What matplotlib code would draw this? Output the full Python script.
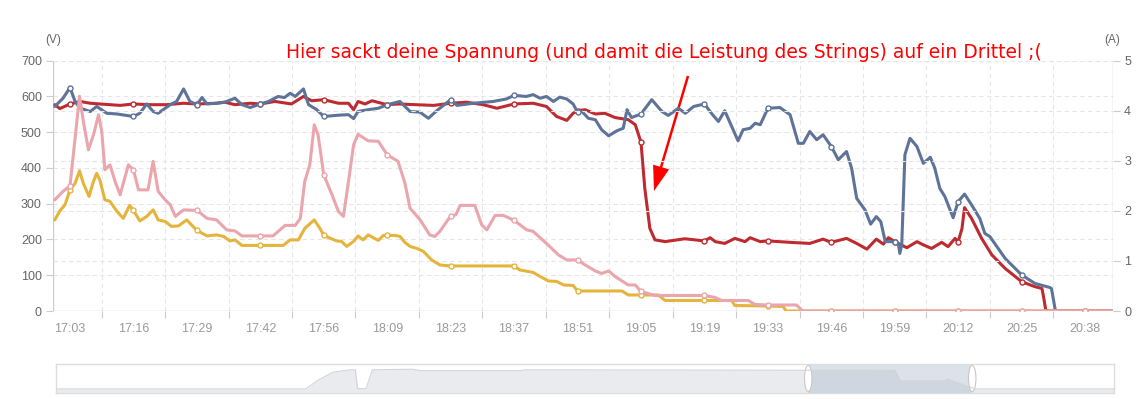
import numpy as np
import matplotlib.pyplot as plt
from matplotlib.patches import Ellipse, Rectangle

# category labels on the time axis (one label every few samples)
times = ["17:03", "17:16", "17:29", "17:42", "17:56", "18:09", "18:23", "18:37", "18:51",
         "19:05", "19:19", "19:33", "19:46", "19:59", "20:12", "20:25", "20:38"]

# string 1 voltage (V), x in label-index units
red_x = [-0.24, -0.16, 0, 0.16, 0.32, 0.47, 0.63, 0.79, 1, 1.26, 1.52, 1.79, 2, 2.31, 2.44, 2.6,
         2.84, 3, 3.23, 3.49, 3.68, 3.81, 4, 4.23, 4.39, 4.47, 4.54, 4.65, 4.76, 4.91, 5, 5.18,
         5.45, 5.73, 6, 6.25, 6.51, 6.73, 7, 7.3, 7.51, 7.67, 7.83, 7.93, 8, 8.12, 8.28, 8.43,
         8.59, 8.8, 8.91, 9, 9.06, 9.14, 9.22, 9.38, 9.69, 10, 10.09, 10.17, 10.32, 10.48, 10.64,
         10.72, 10.88, 11, 11.35, 11.66, 11.87, 12, 12.24, 12.4, 12.56, 12.71, 12.82, 12.9, 13,
         13.19, 13.35, 13.45, 13.58, 13.74, 13.84, 13.95, 14, 14.06, 14.1, 14.21, 14.37, 14.53,
         14.74, 15, 15.21, 15.32, 15.34, 15.38, 15.42, 16, 16.42]
red_v = [577, 566, 579, 586, 581, 579, 577, 575, 579, 577, 577, 581, 579, 581, 584, 577,
         581, 579, 586, 579, 600, 588, 591, 581, 581, 563, 586, 579, 588, 581, 577, 579,
         577, 575, 581, 584, 577, 567, 579, 581, 572, 544, 533, 553, 560, 563, 551, 553,
         541, 535, 521, 472, 343, 231, 199, 194, 202, 196, 205, 194, 189, 203, 194,
         205, 194, 196, 192, 189, 201, 192, 203, 189, 173, 201, 187, 205, 194,
         177, 194, 185, 175, 192, 180, 203, 194, 231, 289, 259, 203, 157,
         119, 82, 68, 63, 45, 3, 0, 0, 0]

# string 2 voltage (V)
blue_x = [-0.24, -0.11, 0, 0.08, 0.16, 0.32, 0.42, 0.58, 0.74, 1, 1.1, 1.21, 1.31, 1.39, 1.5,
          1.58, 1.68, 1.79, 1.89, 2, 2.08, 2.16, 2.31, 2.44, 2.6, 2.71, 2.84, 3, 3.13, 3.28,
          3.38, 3.47, 3.55, 3.68, 3.76, 3.89, 4, 4.26, 4.39, 4.47, 4.54, 4.7, 4.86, 5, 5.2,
          5.36, 5.52, 5.57, 5.65, 5.78, 6, 6.1, 6.36, 6.67, 6.88, 7, 7.19, 7.3, 7.41, 7.51,
          7.62, 7.72, 7.83, 7.93, 8, 8.07, 8.17, 8.28, 8.38, 8.49, 8.62, 8.72, 8.78, 8.85, 9,
          9.17, 9.33, 9.43, 9.59, 9.7, 9.83, 10, 10.11, 10.22, 10.32, 10.43, 10.53, 10.61,
          10.72, 10.8, 10.88, 11, 11.19, 11.35, 11.48, 11.56, 11.66, 11.77, 11.87, 12, 12.11,
          12.24, 12.32, 12.4, 12.53, 12.62, 12.71, 12.78, 12.85, 13, 13.06, 13.08, 13.11,
          13.16, 13.24, 13.35, 13.45, 13.56, 13.63, 13.71, 13.79, 13.92, 14, 14.1, 14.21,
          14.34, 14.42, 14.5, 14.74, 15, 15.21, 15.44, 15.47, 15.53, 15.56, 16.42]
blue_v = [572, 595, 625, 586, 567, 558, 572, 553, 551, 544, 553, 579, 558, 553, 567,
          577, 586, 621, 586, 577, 597, 579, 581, 584, 595, 577, 569, 579, 586, 600,
          597, 609, 600, 621, 577, 563, 544, 548, 549, 538, 558, 563, 567, 577, 586,
          558, 556, 549, 539, 560, 591, 575, 581, 586, 593, 603, 600, 605, 595, 600,
          586, 598, 593, 579, 556, 558, 539, 535, 507, 490, 504, 511, 563, 541, 551,
          591, 558, 547, 567, 553, 572, 579, 553, 530, 560, 516, 476, 507,
          511, 525, 521, 567, 569, 549, 469, 469, 502, 479, 493, 460, 423,
          446, 399, 315, 283, 243, 264, 250, 194, 194, 185, 161, 185,
          437, 483, 460, 413, 430, 400, 343, 320, 261, 306, 327, 297,
          259, 217, 208, 147, 101, 77, 66, 63, 3, 0, 0]

# string 1 current (A)
pink_x = [-0.24, -0.11, 0, 0.08, 0.15, 0.21, 0.29, 0.37, 0.45, 0.5, 0.55, 0.63, 0.71, 0.79,
          0.92, 1, 1.08, 1.23, 1.31, 1.39, 1.5, 1.58, 1.66, 1.79, 2, 2.16, 2.31, 2.47, 2.6,
          2.71, 3, 3.2, 3.39, 3.55, 3.63, 3.7, 3.78, 3.85, 3.91, 4, 4.13, 4.23, 4.31, 4.39,
          4.47, 4.54, 4.7, 4.86, 5, 5.17, 5.28, 5.36, 5.52, 5.67, 5.75, 5.83, 6, 6.08, 6.15,
          6.38, 6.49, 6.57, 6.7, 6.83, 7, 7.2, 7.3, 7.51, 7.7, 7.83, 8, 8.12, 8.28, 8.38,
          8.49, 8.59, 8.8, 8.91, 9, 9.22, 10, 10.17, 10.27, 10.69, 10.8, 11, 11.45, 11.55,
          12, 13, 14, 15, 16, 16.42]
pink_a = [2.22, 2.39, 2.50, 3.45, 4.29, 3.79, 3.22, 3.52, 3.92, 3.59, 2.82, 2.92, 2.59, 2.32,
          2.92, 2.82, 2.42, 2.42, 2.99, 2.39, 2.22, 2.12, 1.89, 2.02, 2.01, 1.85, 1.82, 1.62, 1.60,
          1.50, 1.50, 1.50, 1.71, 1.71, 1.85, 2.59, 2.92, 3.72, 3.52, 2.72, 2.32, 1.99, 1.89, 2.59,
          3.32, 3.53, 3.40, 3.39, 3.12, 2.99, 2.55, 2.05, 1.82, 1.52, 1.49, 1.59, 1.90, 1.92, 2.11,
          2.11, 1.72, 1.62, 1.91, 1.91, 1.81, 1.62, 1.59, 1.35, 1.12, 1.02, 1.02, 0.92, 0.80, 0.75,
          0.80, 0.69, 0.52, 0.52, 0.39, 0.31, 0.31, 0.27, 0.21, 0.21, 0.13, 0.12, 0.12, 0,
          0, 0, 0, 0, 0, 0]

# string 2 current (A)
yellow_x = [-0.24, -0.16, -0.08, 0, 0.08, 0.15, 0.21, 0.3, 0.37, 0.42, 0.47, 0.55, 0.63, 0.74,
            0.84, 0.94, 1, 1.1, 1.21, 1.31, 1.39, 1.5, 1.6, 1.71, 1.84, 2, 2.16, 2.31, 2.42,
            2.52, 2.6, 2.71, 3, 3.36, 3.47, 3.6, 3.7, 3.85, 3.94, 4, 4.2, 4.28, 4.36, 4.47,
            4.54, 4.62, 4.7, 4.86, 4.94, 5, 5.12, 5.2, 5.28, 5.36, 5.47, 5.57, 5.7, 5.83, 6, 7,
            7.09, 7.3, 7.41, 7.54, 7.67, 7.78, 7.93, 8, 8.7, 8.8, 9, 9.27, 9.38, 10, 10.43,
            10.48, 11, 11.24, 11.29, 12, 13, 14, 15, 16, 16.42]
yellow_a = [1.82, 2.0, 2.12, 2.42, 2.55, 2.80, 2.55, 2.29, 2.59, 2.75, 2.62, 2.22, 2.19, 1.99,
            1.85, 2.11, 2.01, 1.80, 1.89, 2.02, 1.82, 1.79, 1.69, 1.70, 1.82, 1.61, 1.50, 1.52, 1.49,
            1.40, 1.42, 1.31, 1.31, 1.31, 1.42, 1.42, 1.65, 1.82, 1.65, 1.51, 1.40, 1.39, 1.29, 1.39,
            1.50, 1.42, 1.52, 1.41, 1.51, 1.51, 1.51, 1.49, 1.37, 1.29, 1.25, 1.19, 1.02, 0.92, 0.90, 0.90,
            0.82, 0.77, 0.69, 0.60, 0.59, 0.52, 0.51, 0.40, 0.40, 0.32, 0.32, 0.32, 0.21, 0.21, 0.21,
            0.11, 0.10, 0.09, 0, 0, 0, 0, 0, 0, 0]

# overview strip of the data zoom slider (fraction of full range, fraction of height)
zoom_x = [0, 0.236, 0.248, 0.262, 0.278, 0.283, 0.285, 0.293, 0.299, 0.337, 0.345, 0.439,
          0.443, 0.609, 0.793, 0.798, 0.84, 0.843, 0.85, 0.869, 1.0]
zoom_y = [0.14, 0.14, 0.45, 0.72, 0.8, 0.8, 0.15, 0.15, 0.8, 0.82, 0.77, 0.77,
          0.8, 0.79, 0.78, 0.42, 0.42, 0.48, 0.38, 0.14, 0.14]
zoom_window = [0.711, 0.866]

W, H = 1141, 399
fig = plt.figure(figsize=(W / 100, H / 100), dpi=100)
ax = fig.add_axes([53 / W, (H - 311) / H, (1113 - 53) / W, (311 - 60.7) / H])
ax2 = ax.twinx()

grid_c = "#e6e6e6"
for a in (ax, ax2):
    for s in ("top", "bottom", "left", "right"):
        a.spines[s].set_visible(False)

ax.set_xlim(-0.268, 16.44)
ax.set_ylim(0, 700)
ax2.set_ylim(0, 5)
ax.set_yticks(range(0, 701, 100))
ax2.set_yticks(range(0, 6))
ax.set_xticks(range(len(times)))
ax.set_xticklabels(times)
ax.set_xticks(np.arange(len(times)) + 0.5, minor=True)

ax.tick_params(axis="x", which="major", length=0, pad=9, labelsize=9, labelcolor="#9a9a9a")
ax.tick_params(axis="x", which="minor", length=5, color="#cccccc", width=0.8)
ax.tick_params(axis="y", length=5, color="#cccccc", width=0.8, labelsize=9, labelcolor="#666666", pad=3)
ax2.tick_params(axis="y", length=5, color="#cccccc", width=0.8, labelsize=9, labelcolor="#666666", pad=3)
for lab in ax.get_xticklabels() + ax.get_yticklabels() + ax2.get_yticklabels():
    lab.set_fontfamily("Liberation Sans")

# dashed grids for both y axes and the minor x ticks
for v in range(100, 701, 100):
    ax.axhline(v, color=grid_c, lw=0.8, ls=(0, (4, 3)), zorder=0)
for v in range(1, 6):
    ax2.axhline(v, color=grid_c, lw=0.8, ls=(0, (4, 3)), zorder=0)
for xm in np.arange(len(times)) + 0.5:
    if xm < 16.44:
        ax.axvline(xm, color=grid_c, lw=0.8, ls=(0, (4, 3)), zorder=0)
ax.axvline(-0.268, color="#cccccc", lw=1, zorder=1)
ax.axvline(16.44, color="#cccccc", lw=1, zorder=1)
ax.axhline(0, color="#cccccc", lw=1, zorder=1)


def marks(xs):
    return [i for i, x in enumerate(xs) if float(x).is_integer()]


mk = dict(marker="o", markersize=3.6, markerfacecolor="white", markeredgewidth=1,
          solid_joinstyle="round", solid_capstyle="round")
ax.plot(red_x, red_v, color="#bd2b31", lw=2.2, markevery=marks(red_x),
        markeredgecolor="#bd2b31", zorder=3, **mk)
ax.plot(blue_x, blue_v, color="#5e7398", lw=2.2, markevery=marks(blue_x),
        markeredgecolor="#5e7398", zorder=4, **mk)
ax2.plot(yellow_x, yellow_a, color="#e4b43c", lw=2.2, markevery=marks(yellow_x),
         markeredgecolor="#e4b43c", zorder=3, **mk)
ax2.plot(pink_x, pink_a, color="#eaa5ad", lw=2.2, markevery=marks(pink_x),
         markeredgecolor="#eaa5ad", zorder=4, **mk)
ax2.set_xlim(-0.268, 16.44)

fig.text(53 / W, 1 - 40 / H, "(V)", ha="center", va="center", fontsize=8.5,
         color="#666666", family="Liberation Sans")
fig.text(1112 / W, 1 - 40 / H, "(A)", ha="center", va="center", fontsize=8.5,
         color="#666666", family="Liberation Sans")

fig.text(286 / W, 1 - 57.5 / H, "Hier sackt deine Spannung (und damit die Leistung des Strings) auf ein Drittel ;(",
         ha="left", va="baseline", fontsize=13.5, color="#ff0000", family="DejaVu Sans")
ax.annotate("", xy=(654, H - 191), xycoords="figure pixels",
            xytext=(688, H - 76), textcoords="figure pixels",
            arrowprops=dict(width=1.8, headwidth=12, headlength=18, color="#ff0000",
                            shrink=0, lw=0))

# data zoom slider
sl = fig.add_axes([56 / W, (H - 393) / H, (1114 - 56) / W, 29 / H])
sl.set_xlim(0, 1)
sl.set_ylim(0, 1)
sl.set_xticks([])
sl.set_yticks([])
for s in sl.spines.values():
    s.set_color("#dddddd")
    s.set_linewidth(1)
sl.fill_between(zoom_x, 0, zoom_y, color="#e9ebee", lw=0)
sl.plot(zoom_x, zoom_y, color="#d2d4d8", lw=0.8)
sl.add_patch(Rectangle((zoom_window[0], 0), zoom_window[1] - zoom_window[0], 1,
                       facecolor="#a7b7cc", alpha=0.4, lw=0))
for xw in zoom_window:
    sl.add_patch(Ellipse((xw, 0.5), 0.007, 0.9, facecolor="white", edgecolor="#c8c8c8", lw=0.8))

plt.savefig("out.png", dpi=100)
